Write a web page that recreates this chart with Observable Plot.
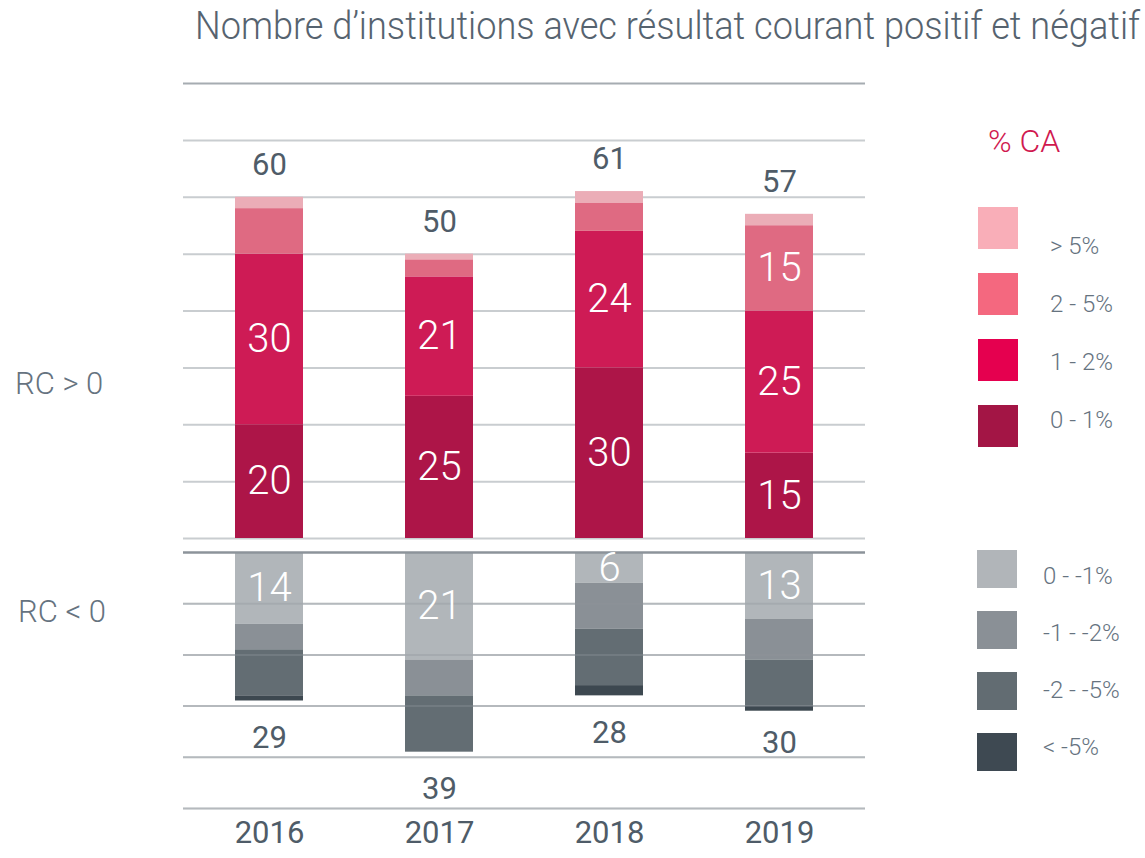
<!DOCTYPE html>
<html><head><meta charset="utf-8">
<script src="https://cdn.jsdelivr.net/npm/d3@7"></script>
<script src="https://cdn.jsdelivr.net/npm/@observablehq/plot@0.6"></script>
<style>
body{margin:0;background:#fff;font-family:Roboto,sans-serif;}
#wrap{position:relative;width:1145px;height:858px;overflow:hidden;background:#fff;}
#wrap svg{position:absolute;left:0;}
.abs{position:absolute;white-space:nowrap;line-height:1;}
</style></head><body><div id="wrap"></div>
<script>
// ---- data ----
const years = ["2016", "2017", "2018", "2019"];
const posCategories = ["0 - 1%", "1 - 2%", "2 - 5%", "> 5%"];
const pos0to1 = [20, 25, 30, 15];
const pos1to2 = [30, 21, 24, 25];
const pos2to5 = [8, 3, 5, 15];
const posOver5 = [2, 1, 2, 2];
const posTotals = [60, 50, 61, 57];
const negCategories = ["0 - -1%", "-1 - -2%", "-2 - -5%", "< -5%"];
const neg0to1 = [14, 21, 6, 13];
const neg1to2 = [5, 7, 9, 8];
const neg2to5 = [9, 11, 11, 9];
const negUnder5 = [1, 0, 2, 1];
const negTotals = [29, 39, 28, 30];
const posTicks = [0, 10, 20, 30, 40, 50, 60, 70, 80];
const negTicks = [0, 10, 20, 30, 40, 50];
const groupLabels = ["RC > 0", "RC < 0"];
const legendTitle = "% CA";
const titleText = "Nombre d\u2019institutions avec résultat courant positif et négatif";

// ---- colours ----
const posBarColors = ["#ad1548", "#ce1b55", "#df6a82", "#ebadb7"];
const posLegendColors = ["#a31545", "#e5004f", "#f4687f", "#f9aeb8"];
const negBarColors = ["#b1b6ba", "#8a9096", "#636d73", "#3d4850"];
const negLegendColors = ["#b1b5b9", "#8a9096", "#626c72", "#3e4952"];
const textGray = "#4f5c68";
const lightGray = "#66737f";

const posSeries = [pos0to1, pos1to2, pos2to5, posOver5];
const negSeries = [neg0to1, neg1to2, neg2to5, negUnder5];
const posData = [], negData = [];
years.forEach((yr, i) => {
  posSeries.forEach((arr, k) => posData.push({year: yr, cat: posCategories[k], v: arr[i]}));
  negSeries.forEach((arr, k) => negData.push({year: yr, cat: negCategories[k], v: arr[i]}));
});
const posTot = years.map((yr, i) => ({year: yr, total: posTotals[i]}));
const negTot = years.map((yr, i) => ({year: yr, total: negTotals[i]}));

const wrap = document.getElementById("wrap");
const font = "Roboto, sans-serif";

const topPlot = Plot.plot({
  width: 1145, height: 545,
  marginLeft: 183, marginRight: 280, marginTop: 83, marginBottom: 7,
  x: {domain: years, paddingInner: 0.6, paddingOuter: 0.3, axis: null},
  y: {domain: [0, 80], axis: null},
  color: {domain: posCategories, range: posBarColors},
  style: {fontFamily: font, background: "transparent", overflow: "visible"},
  marks: [
    Plot.ruleY(posTicks.filter(t => t < 80), {stroke: "#c9cdd0", strokeWidth: 2}),
    Plot.ruleY(posTicks.filter(t => t === 80), {stroke: "#a6acb1", strokeWidth: 2}),
    Plot.barY(posData, Plot.stackY({x: "year", y: "v", fill: "cat"})),
    Plot.text(posData, Plot.stackY({x: "year", y: "v", z: "cat",
      text: d => (d.v >= 10 ? String(d.v) : ""), fill: "white", fontSize: 40, fontWeight: 300})),
    Plot.text(posTot, {x: "year", y: "total", text: d => String(d.total), dy: -32,
      fill: textGray, fontSize: 31, fontWeight: 400})
  ]
});
topPlot.style.top = "0px";
wrap.appendChild(topPlot);

const botPlot = Plot.plot({
  width: 1145, height: 313,
  marginLeft: 183, marginRight: 280, marginTop: 7, marginBottom: 50,
  x: {domain: years, paddingInner: 0.6, paddingOuter: 0.3, label: null},
  y: {domain: [0, 50], reverse: true, axis: null},
  color: {domain: negCategories, range: negBarColors},
  style: {fontFamily: font, background: "transparent", overflow: "visible"},
  marks: [
    Plot.ruleY(negTicks.filter(t => t > 0), {stroke: "#c9cdd0", strokeWidth: 2}),
    Plot.barY(negData, Plot.stackY({x: "year", y: "v", fill: "cat"})),
    Plot.ruleY(negTicks.filter(t => t > 0), {stroke: "#8f969c", strokeOpacity: 0.35, strokeWidth: 2}),
    Plot.ruleY(negTicks.filter(t => t === 0), {stroke: "#8c939a", strokeWidth: 2.5}),
    Plot.text(negData, Plot.stackY({x: "year", y: "v", z: "cat",
      text: d => (d.cat === negCategories[0] ? String(d.v) : ""),
      fill: "white", fontSize: 40, fontWeight: 300})),
    Plot.text(negTot, {x: "year", y: "total", text: d => String(d.total), dy: 37,
      fill: textGray, fontSize: 31, fontWeight: 400}),
    Plot.axisX({tickSize: 0, tickPadding: 12, fontSize: 31, fontWeight: 400, fill: textGray, label: null})
  ]
});
botPlot.style.top = "545px";
wrap.appendChild(botPlot);

function addText(txt, left, centerY, size, color, weight) {
  const d = document.createElement("div");
  d.className = "abs";
  d.textContent = txt;
  d.style.left = left + "px";
  d.style.top = (centerY - size * 0.55) + "px";
  d.style.fontSize = size + "px";
  d.style.color = color;
  d.style.fontWeight = weight;
  wrap.appendChild(d);
  return d;
}
function addBox(left, top, w, h, color) {
  const d = document.createElement("div");
  d.className = "abs";
  Object.assign(d.style, {left: left + "px", top: top + "px", width: w + "px", height: h + "px", background: color});
  wrap.appendChild(d);
}

// title (scaled horizontally to the reference width)
const t = addText(titleText, 195, 28, 38, "#56636f", 300);
t.style.transformOrigin = "0 50%";
const tw = t.getBoundingClientRect().width;
t.style.transform = `scaleX(${945 / tw})`;

addText(groupLabels[0], 15, 385, 31, lightGray, 300);
addText(groupLabels[1], 18, 613, 31, lightGray, 300);
addText(legendTitle, 988, 143, 32, "#d0184f", 300);

// positive legend (top to bottom: > 5% first)
[3, 2, 1, 0].forEach((k, j) => {
  addBox(978, 207 + j * 66, 40, 42, posLegendColors[k]);
  addText(posCategories[k], 1050, 247 + j * 58, 24, lightGray, 300);
});
// negative legend
[0, 1, 2, 3].forEach((k, j) => {
  addBox(977, 550 + j * 61, 40, 38, negLegendColors[k]);
  addText(negCategories[k], 1043, 577 + j * 57, 24, lightGray, 300);
});
</script></body></html>
